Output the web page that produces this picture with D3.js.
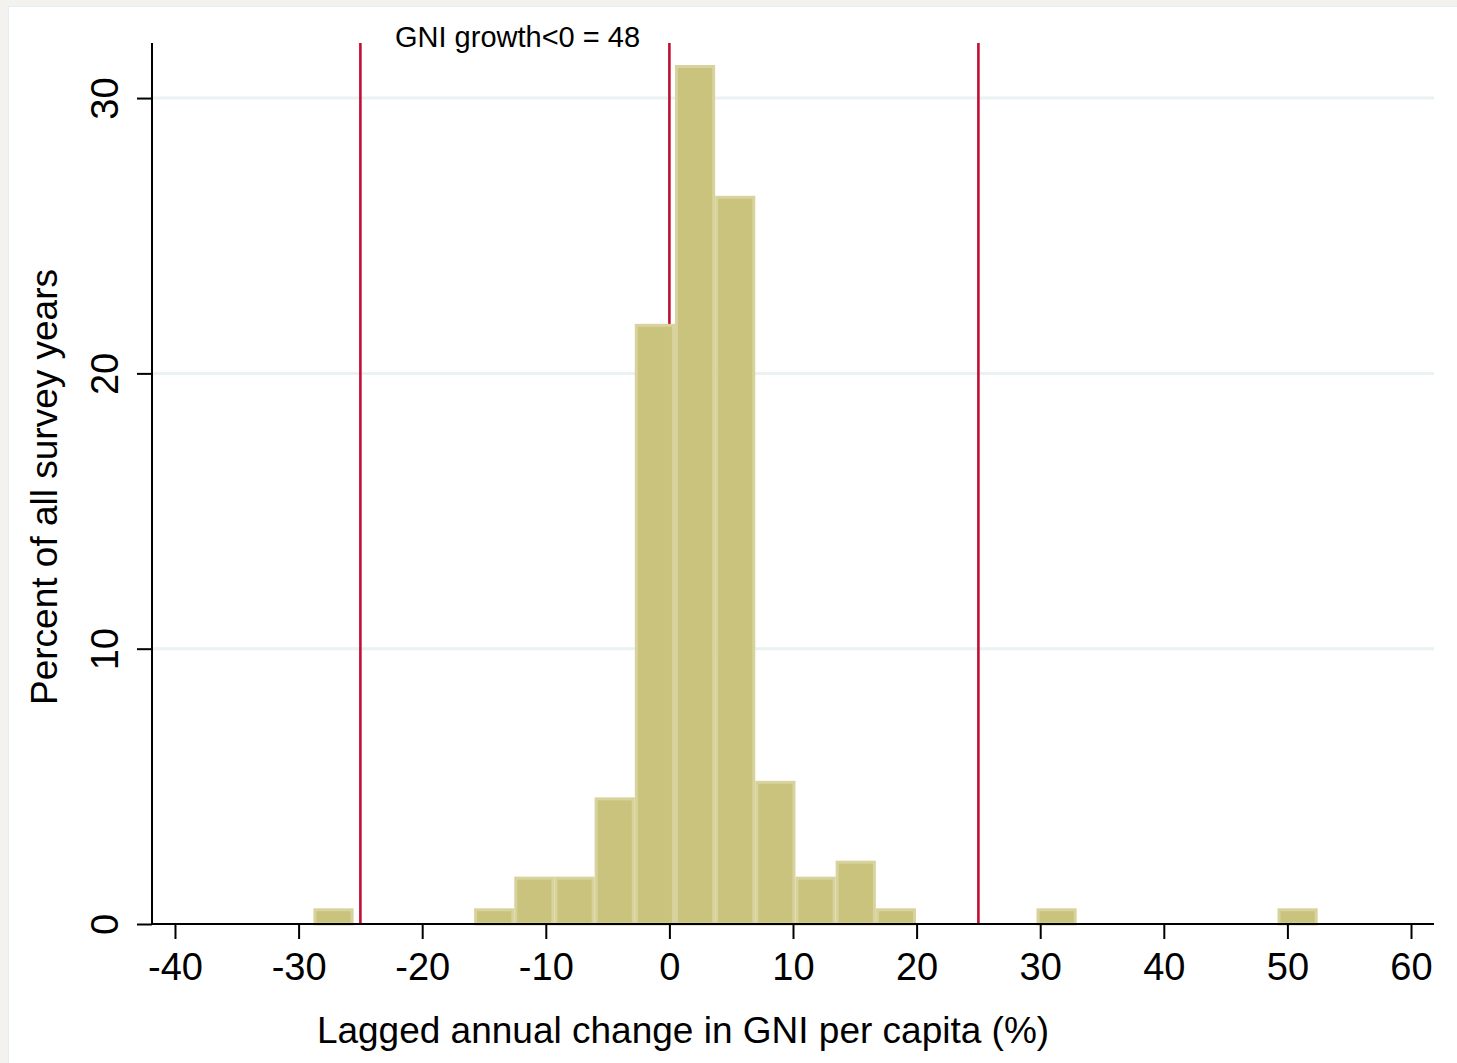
<!DOCTYPE html>
<html>
<head>
<meta charset="utf-8">
<script src="https://cdn.jsdelivr.net/npm/d3@7"></script>
<style>
  body { margin: 0; background: #f3f2ee; }
  text { font-family: "Liberation Sans", Arial, Helvetica, sans-serif; fill: #000; }
</style>
</head>
<body>
<svg id="chart" width="1457" height="1063"></svg>
<script>
// Histogram: bin start, bin width, percent per bin
var binStart = -28.8;
var binWidth = 3.25;
var binPercent = [0.57, 0, 0, 0, 0.57, 1.72, 1.72, 4.6, 21.8, 31.2, 26.45, 5.2, 1.72, 2.3, 0.57,
                  0, 0, 0, 0.57, 0, 0, 0, 0, 0, 0.57];
var xTicks = [-40, -30, -20, -10, 0, 10, 20, 30, 40, 50, 60];
var yTicks = [0, 10, 20, 30];
var refLines = [-25, 0, 25];
var noteText = "GNI growth<0 = 48";
var noteX = -22.2;
var xTitle = "Lagged annual change in GNI per capita (%)";
var yTitle = "Percent of all survey years";

var svg = d3.select("svg#chart");
var width = +svg.attr("width"), height = +svg.attr("height");

// frame
svg.append("rect").attr("width", width).attr("height", height).attr("fill", "#f3f2ee");
svg.append("rect")
  .attr("x", 8.5).attr("y", 6.5)
  .attr("width", width).attr("height", height)
  .attr("fill", "#ffffff")
  .attr("stroke", "#e4edf3").attr("stroke-width", 1);

var plotLeft = 152, plotRight = 1434, plotTop = 43, plotBottom = 924;

var x = d3.scaleLinear().domain([-41.86, 61.86]).range([plotLeft, plotRight]);
var y = d3.scaleLinear().domain([0, 32]).range([plotBottom, plotTop]);

// gridlines
svg.append("g")
  .selectAll("line")
  .data(yTicks.filter(d => d > 0))
  .join("line")
  .attr("x1", plotLeft).attr("x2", plotRight)
  .attr("y1", d => y(d)).attr("y2", d => y(d))
  .attr("stroke", "#eaf2f3")
  .attr("stroke-width", 3);

// reference lines (behind the bars)
svg.append("g")
  .selectAll("line")
  .data(refLines)
  .join("line")
  .attr("x1", d => x(d)).attr("x2", d => x(d))
  .attr("y1", plotTop).attr("y2", plotBottom)
  .attr("stroke", "#c30d33")
  .attr("stroke-width", 2.6);

// bars
var bins = binPercent.map(function (p, i) {
  return { x0: binStart + i * binWidth, x1: binStart + (i + 1) * binWidth, pct: p };
}).filter(d => d.pct > 0);

svg.append("g")
  .selectAll("rect")
  .data(bins)
  .join("rect")
  .attr("x", d => x(d.x0) + 1.5)
  .attr("width", d => x(d.x1) - x(d.x0) - 3)
  .attr("y", d => y(d.pct) + 1.5)
  .attr("height", d => y(0) - y(d.pct) - 1.5)
  .attr("fill", "#c9c37e")
  .attr("stroke", "#d8d39d")
  .attr("stroke-width", 3);

// note
svg.append("text")
  .attr("x", x(noteX))
  .attr("y", 47)
  .style("font-size", "29px")
  .text(noteText);

// x axis
var xAxis = svg.append("g")
  .attr("transform", "translate(0," + plotBottom + ")")
  .call(d3.axisBottom(x).tickValues(xTicks).tickSize(15).tickPadding(14).tickFormat(d => String(d)));
xAxis.select(".domain").attr("d", "M" + plotLeft + ",0H" + plotRight).attr("stroke-width", 2);
xAxis.selectAll(".tick line").attr("stroke-width", 2);
xAxis.selectAll(".tick text").style("font-size", "38px").attr("fill", "#000");

// y axis
var yAxis = svg.append("g")
  .attr("transform", "translate(" + plotLeft + ",0)")
  .call(d3.axisLeft(y).tickValues(yTicks).tickSize(15).tickFormat(d => String(d)));
yAxis.select(".domain").attr("d", "M0," + plotTop + "V" + plotBottom).attr("stroke-width", 2);
yAxis.selectAll(".tick line").attr("stroke-width", 2);
yAxis.selectAll(".tick text")
  .style("font-size", "38px")
  .attr("fill", "#000")
  .attr("x", null).attr("dy", null)
  .attr("text-anchor", "middle")
  .attr("transform", "translate(-34,0) rotate(-90)");

// axis titles
svg.append("text")
  .attr("x", 683).attr("y", 1043)
  .attr("text-anchor", "middle")
  .style("font-size", "37px")
  .text(xTitle);

svg.append("text")
  .attr("transform", "translate(57,487) rotate(-90)")
  .attr("text-anchor", "middle")
  .style("font-size", "37px")
  .text(yTitle);
</script>
</body>
</html>
